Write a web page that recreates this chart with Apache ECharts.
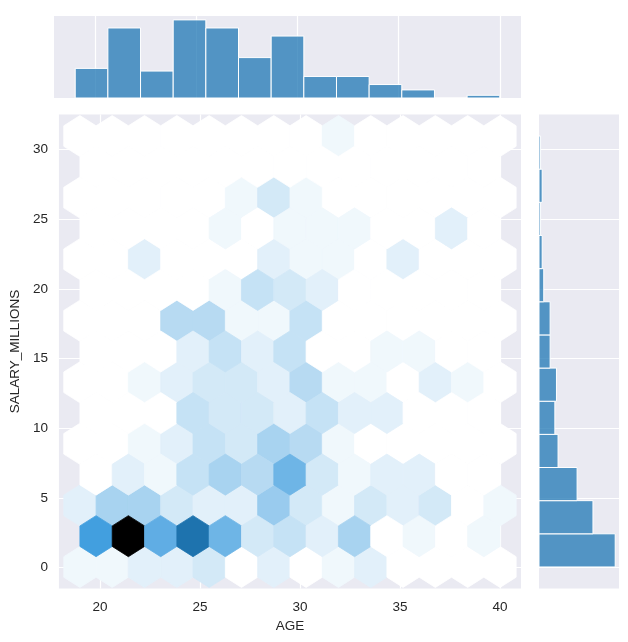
<!DOCTYPE html>
<html><head><meta charset="utf-8">
<script src="https://cdn.jsdelivr.net/npm/echarts@6/dist/echarts.min.js"></script>
<style>html,body{margin:0;padding:0;background:#fff}#c{width:628px;height:642px}</style>
</head><body><div id="c"></div>
<script>
// ---------------- data ----------------
const ageMin = 19, ageMax = 40;              // AGE extent
const salaryMin = 0.05, salaryMax = 30.96;   // SALARY_MILLIONS extent
const gridsize = 13;                         // hexbin gridsize
// hexbin counts, lattice A (centres on the extent corners), rows bottom -> top
const hexLatticeA = [
  [1,1,2,2,3,0,2,0,1,2,0,0,0,0],
  [2,6,6,3,2,2,7,3,1,3,2,3,0,1],
  [0,0,1,2,4,3,6,5,1,0,0,0,0,0],
  [0,0,1,2,3,3,2,5,1,1,0,2,1,0],
  [0,0,0,5,5,1,1,4,0,0,0,0,0,0],
  [0,0,2,0,0,0,2,1,1,0,2,0,0,0],
  [0,0,0,0,0,1,3,1,0,0,0,0,0,0],
  [0,0,0,0,0,0,0,0,1,0,0,0,0,0]
];
// hexbin counts, lattice B (offset half a cell), rows bottom -> top
const hexLatticeB = [
  [13,30,11,18,10,3,4,2,6,0,1,0,1],
  [0,2,1,4,6,5,10,3,1,2,2,0,0],
  [0,0,0,4,3,3,2,4,2,2,0,0,0],
  [0,0,0,2,4,2,4,0,0,1,1,0,0],
  [0,0,0,0,1,4,3,2,0,0,0,0,0],
  [0,0,0,0,1,0,1,1,1,0,0,2,0],
  [0,0,0,0,0,0,0,0,0,0,0,0,0]
];
const ageHistCounts = [11,26,10,29,26,15,23,8,8,5,3,0,1];          // 13 bins, AGE
const salaryHistCounts = [48,34,24,12,10,11,7,7,3,2,1,2,1];        // 13 bins, SALARY bottom -> top
const xTicks = [20,25,30,35,40];
const yTicks = [0,5,10,15,20,25,30];
const xName = 'AGE', yName = 'SALARY_MILLIONS';

// ---------------- helpers ----------------
const baseColor = '#1f77b4';
function hexToRgb(h){return [parseInt(h.slice(1,3),16)/255,parseInt(h.slice(3,5),16)/255,parseInt(h.slice(5,7),16)/255];}
function rgbToHls(r,g,b){
  const mx=Math.max(r,g,b), mn=Math.min(r,g,b), l=(mx+mn)/2;
  if(mx===mn) return [0,l,0];
  const s = l<=0.5 ? (mx-mn)/(mx+mn) : (mx-mn)/(2-mx-mn);
  const rc=(mx-r)/(mx-mn), gc=(mx-g)/(mx-mn), bc=(mx-b)/(mx-mn);
  let h; if(r===mx) h=bc-gc; else if(g===mx) h=2+rc-bc; else h=4+gc-rc;
  h=((h/6)%1+1)%1; return [h,l,s];
}
function _v(m1,m2,h){h=((h%1)+1)%1; if(h<1/6) return m1+(m2-m1)*h*6; if(h<0.5) return m2; if(h<2/3) return m1+(m2-m1)*(2/3-h)*6; return m1;}
function hlsToRgb(h,l,s){ if(s===0) return [l,l,l]; const m2 = l<=0.5 ? l*(1+s) : l+s-l*s; const m1=2*l-m2; return [_v(m1,m2,h+1/3),_v(m1,m2,h),_v(m1,m2,h-1/3)];}
const hls = rgbToHls(...hexToRgb(baseColor));
const cmapColors = [];
for(let k=0;k<12;k++){
  const l = 1 - k/11;
  const c = hlsToRgb(hls[0], l, hls[2]).map(v=>Math.round(Math.max(0,Math.min(1,v))*255));
  cmapColors.push('rgb('+c.join(',')+')');
}

const ny = Math.floor(gridsize/Math.sqrt(3));
const sx = (ageMax-ageMin)/gridsize, sy = (salaryMax-salaryMin)/ny;
const hexData = [];
hexLatticeA.forEach((row,j)=>row.forEach((c,i)=>hexData.push([ageMin+i*sx, salaryMin+j*sy, c])));
hexLatticeB.forEach((row,j)=>row.forEach((c,i)=>hexData.push([ageMin+(i+0.5)*sx, salaryMin+(j+0.5)*sy, c])));
let maxCount = 0; hexData.forEach(d=>{if(d[2]>maxCount) maxCount=d[2];});
const hexShape = [[.5,-.5],[.5,.5],[0,1],[-.5,.5],[-.5,-.5],[0,-1]];

const xPad = 0.05*(ageMax-ageMin), yPad = 0.05*(salaryMax-salaryMin);
const xMinAx = ageMin-xPad, xMaxAx = ageMax+xPad, yMinAx = salaryMin-yPad, yMaxAx = salaryMax+yPad;

const ageBinW = (ageMax-ageMin)/ageHistCounts.length;
const ageHistData = ageHistCounts.map((c,k)=>[ageMin+k*ageBinW, ageMin+(k+1)*ageBinW, c]);
const salBinW = (salaryMax-salaryMin)/salaryHistCounts.length;
const salHistData = salaryHistCounts.map((c,k)=>[salaryMin+k*salBinW, salaryMin+(k+1)*salBinW, c]);

const barFill = 'rgba(31,119,180,0.75)';
const font = 'Liberation Sans';
const txt = '#262626';
const gridLine = {show:true, lineStyle:{color:'#ffffff', width:1.2}};

const chart = echarts.init(document.getElementById('c'), null, {renderer:'canvas'});
chart.setOption({
  animation:false,
  backgroundColor:'#ffffff',
  grid:[
    {left:54, top:114.5, width:467, height:474, show:true, backgroundColor:'#EAEAF2', borderWidth:0, containLabel:false},
    {left:54, top:16, width:467, height:82, show:true, backgroundColor:'#EAEAF2', borderWidth:0, containLabel:false},
    {left:539, top:114.5, width:80, height:474, show:true, backgroundColor:'#EAEAF2', borderWidth:0, containLabel:false}
  ],
  xAxis:[
    {gridIndex:0, type:'value', min:xMinAx, max:xMaxAx, name:xName, nameLocation:'middle', nameGap:31,
     nameTextStyle:{fontFamily:font, fontSize:13.5, color:txt},
     axisLine:{show:false}, axisTick:{show:false, customValues:xTicks},
     axisLabel:{customValues:xTicks, fontFamily:font, fontSize:13.5, color:txt, margin:12},
     splitLine:gridLine},
    {gridIndex:1, type:'value', min:xMinAx, max:xMaxAx,
     axisLine:{show:false}, axisTick:{show:false, customValues:xTicks}, axisLabel:{show:false, customValues:xTicks},
     splitLine:gridLine},
    {gridIndex:2, type:'value', min:0, max:Math.max(...salaryHistCounts)*1.05,
     axisLine:{show:false}, axisTick:{show:false}, axisLabel:{show:false}, splitLine:{show:false}}
  ],
  yAxis:[
    {gridIndex:0, type:'value', min:yMinAx, max:yMaxAx, name:yName, nameLocation:'middle', nameGap:33,
     nameTextStyle:{fontFamily:font, fontSize:13.5, color:txt},
     axisLine:{show:false}, axisTick:{show:false, customValues:yTicks},
     axisLabel:{customValues:yTicks, fontFamily:font, fontSize:13.5, color:txt, margin:11},
     splitLine:gridLine},
    {gridIndex:1, type:'value', min:0, max:Math.max(...ageHistCounts)*1.05,
     axisLine:{show:false}, axisTick:{show:false}, axisLabel:{show:false}, splitLine:{show:false}},
    {gridIndex:2, type:'value', min:yMinAx, max:yMaxAx,
     axisLine:{show:false}, axisTick:{show:false, customValues:yTicks}, axisLabel:{show:false, customValues:yTicks},
     splitLine:gridLine}
  ],
  visualMap:{type:'continuous', show:false, seriesIndex:0, dimension:2, min:0, max:maxCount, inRange:{color:cmapColors}},
  series:[
    {type:'custom', xAxisIndex:0, yAxisIndex:0, clip:true, data:hexData,
     encode:{x:0, y:1},
     renderItem:function(params, api){
       const cx=api.value(0), cy=api.value(1);
       const pts = hexShape.map(o=>api.coord([cx+o[0]*sx, cy+o[1]*sy/3]));
       const col = api.visual('color');
       return {type:'polygon', shape:{points:pts}, style:{fill:col, stroke:col, lineWidth:0.8}};
     }},
    {type:'custom', xAxisIndex:1, yAxisIndex:1, data:ageHistData, encode:{x:[0,1], y:2},
     renderItem:function(params, api){
       const p0=api.coord([api.value(0), api.value(2)]), p1=api.coord([api.value(1), 0]);
       return {type:'rect', shape:{x:p0[0], y:p0[1], width:p1[0]-p0[0], height:p1[1]-p0[1]},
               style:{fill:barFill, stroke:'#ffffff', lineWidth:1}};
     }},
    {type:'custom', xAxisIndex:2, yAxisIndex:2, data:salHistData, encode:{x:2, y:[0,1]},
     renderItem:function(params, api){
       const p0=api.coord([0, api.value(1)]), p1=api.coord([api.value(2), api.value(0)]);
       return {type:'rect', shape:{x:p0[0], y:p0[1], width:p1[0]-p0[0], height:p1[1]-p0[1]},
               style:{fill:barFill, stroke:'#ffffff', lineWidth:1}};
     }}
  ]
});
</script></body></html>
